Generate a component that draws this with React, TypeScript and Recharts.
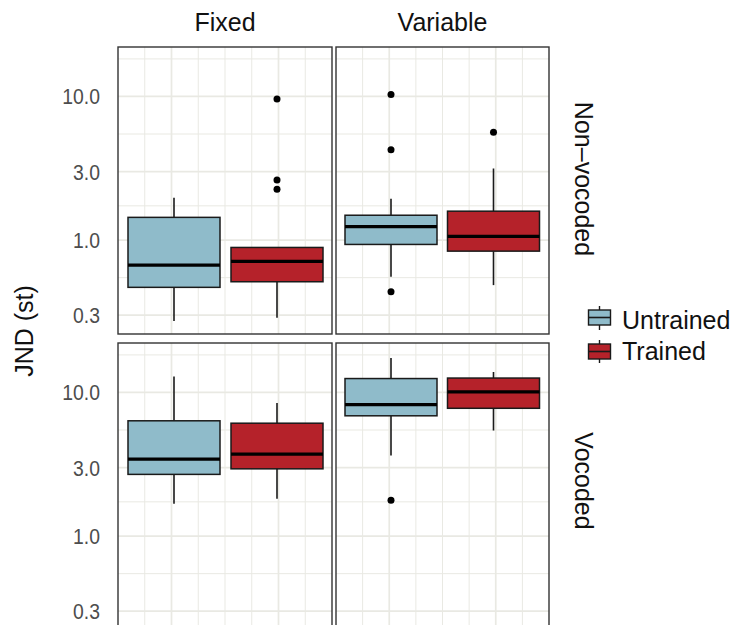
import { BarChart, Bar, XAxis, YAxis, CartesianGrid } from "recharts";

const FONT = '"Liberation Sans", Arial, Helvetica, sans-serif';

const groups = ["Untrained", "Trained"];
const fills: Record<string, string> = { Untrained: "#8FBBCA", Trained: "#B5222A" };

const majorY = [0.3, 1, 3, 10];
const minorY = [0.5477, 1.732, 5.477, 18.26];
const yDomain = [0.222, 22.1];

// per group: [lower whisker, q1, median, q3, upper whisker]
const fixedNonVocoded = [
  [0.273, 0.469, 0.67, 1.44, 1.97],
  [0.288, 0.513, 0.711, 0.889, 0.889],
];
const fixedNonVocodedOut = [[], [2.26, 2.62, 9.62]];

const variableNonVocoded = [
  [0.556, 0.933, 1.24, 1.49, 1.94],
  [0.486, 0.838, 1.06, 1.59, 3.15],
];
const variableNonVocodedOut = [[0.437, 4.25, 10.33], [5.64]];

const fixedVocoded = [
  [1.68, 2.69, 3.43, 6.35, 12.9],
  [1.82, 2.94, 3.72, 6.11, 8.45],
];
const fixedVocodedOut = [[], []];

const variableVocoded = [
  [3.64, 6.88, 8.23, 12.5, 17.4],
  [5.44, 7.76, 10.1, 12.6, 13.9],
];
const variableVocodedOut = [[1.78], []];

const toRows = (stats: number[][], outs: number[][]) =>
  groups.map((g, i) => ({
    group: g,
    low: stats[i][0],
    q1: stats[i][1],
    median: stats[i][2],
    q3: stats[i][3],
    high: stats[i][4],
    outliers: outs[i],
  }));

const BoxShape = (props: any) => {
  const { x, y, width, height, payload } = props;
  const v0 = payload.low;
  const v1 = payload.high;
  const toY = (v: number) =>
    y + (height * (Math.log(v1) - Math.log(v))) / (Math.log(v1) - Math.log(v0));
  const cx = x + width / 2;
  const yq1 = toY(payload.q1);
  const yq3 = toY(payload.q3);
  const ym = toY(payload.median);
  return (
    <g>
      <line x1={cx} x2={cx} y1={toY(payload.high)} y2={yq3} stroke="#1a1a1a" strokeWidth={1.6} />
      <line x1={cx} x2={cx} y1={yq1} y2={toY(payload.low)} stroke="#1a1a1a" strokeWidth={1.6} />
      <rect x={x} y={yq3} width={width} height={yq1 - yq3} fill={fills[payload.group]} stroke="#1a1a1a" strokeWidth={1.5} />
      <line x1={x} x2={x + width} y1={ym} y2={ym} stroke="#000" strokeWidth={3.2} />
      {payload.outliers.map((o: number, i: number) => (
        <circle key={i} cx={cx} cy={toY(o)} r={3.5} fill="#000" />
      ))}
    </g>
  );
};

const YTick = ({ x, y, payload }: any) => (
  <text
    transform={`translate(${x},${y}) scale(0.88,1)`}
    textAnchor="end"
    dy={8}
    fontSize={22}
    fontFamily={FONT}
    fill="#4D4D4D"
  >
    {payload.value.toFixed(1)}
  </text>
);

const scaleY = (yAxis: any, offset: any, v: number) => {
  const s = yAxis && yAxis.scale;
  if (typeof s === "function") return s(v);
  if (s && typeof s.map === "function") return s.map(v);
  const lr = Math.log(yDomain[1]) - Math.log(yDomain[0]);
  return offset.top + (offset.height * (Math.log(yDomain[1]) - Math.log(v))) / lr;
};

const Panel = ({ data, showAxis, left, top, width, height }: any) => (
  <div style={{ position: "absolute", left, top }}>
    <BarChart width={width} height={height} data={data} margin={{ top: 0, right: 0, bottom: 0, left: 0 }}>
      <CartesianGrid
        stroke="#E9E9E3"
        strokeWidth={1}
        horizontalCoordinatesGenerator={({ yAxis, offset }: any) => minorY.map((v) => scaleY(yAxis, offset, v))}
        verticalCoordinatesGenerator={({ offset }: any) =>
          [1, 3, 4, 5, 7].map((i) => offset.left + (offset.width * i) / 8)
        }
      />
      <CartesianGrid
        stroke="#E9E9E3"
        strokeWidth={1.7}
        horizontalCoordinatesGenerator={({ yAxis, offset }: any) => majorY.map((v) => scaleY(yAxis, offset, v))}
        verticalCoordinatesGenerator={({ offset }: any) =>
          [2, 6].map((i) => offset.left + (offset.width * i) / 8)
        }
      />
      <XAxis dataKey="group" type="category" hide padding={{ left: 4, right: 4 }} />
      <YAxis
        type="number"
        scale="log"
        domain={yDomain}
        allowDataOverflow
        ticks={majorY}
        hide={!showAxis}
        width={118}
        axisLine={false}
        tickLine={false}
        tickSize={0}
        tickMargin={18}
        tick={<YTick />}
      />
      <Bar
        dataKey={(d: any) => [d.low, d.high]}
        barSize={92}
        shape={<BoxShape />}
        isAnimationActive={false}
      />
    </BarChart>
  </div>
);

const cols = [
  { left: 118, width: 214 },
  { left: 336, width: 213 },
];
const rows = [
  { top: 47, height: 287 },
  { top: 343, height: 287 },
];

export default function App() {
  return (
    <div
      style={{
        position: "absolute",
        left: 0,
        top: 0,
        width: 736,
        height: 625,
        overflow: "hidden",
        background: "#fff",
        fontFamily: FONT,
      }}
    >
      <Panel data={toRows(fixedNonVocoded, fixedNonVocodedOut)} showAxis left={0} top={rows[0].top} width={332} height={rows[0].height} />
      <Panel data={toRows(variableNonVocoded, variableNonVocodedOut)} showAxis={false} left={cols[1].left} top={rows[0].top} width={cols[1].width} height={rows[0].height} />
      <Panel data={toRows(fixedVocoded, fixedVocodedOut)} showAxis left={0} top={rows[1].top} width={332} height={rows[1].height} />
      <Panel data={toRows(variableVocoded, variableVocodedOut)} showAxis={false} left={cols[1].left} top={rows[1].top} width={cols[1].width} height={rows[1].height} />
      <svg width={736} height={625} style={{ position: "absolute", left: 0, top: 0, pointerEvents: "none" }}>
        {rows.map((r, ri) =>
          cols.map((c, ci) => (
            <rect key={`${ri}-${ci}`} x={c.left} y={r.top} width={c.width} height={r.height} fill="none" stroke="#333" strokeWidth={1.4} />
          ))
        )}
        <g fontFamily={FONT} fontSize={25} fill="#111">
          <text x={225} y={31} textAnchor="middle">Fixed</text>
          <text x={442.5} y={31} textAnchor="middle">Variable</text>
          <text transform="translate(574.5,179) rotate(90)" textAnchor="middle">Non–vocoded</text>
          <text transform="translate(574.5,481) rotate(90)" textAnchor="middle">Vocoded</text>
          <text transform="translate(33,331) rotate(-90)" textAnchor="middle">JND (st)</text>
          <text x={622} y={328.5}>Untrained</text>
          <text x={622} y={360}>Trained</text>
        </g>
        {[
          { g: "Untrained", top: 310, bottom: 325, y1: 306, y2: 330 },
          { g: "Trained", top: 344, bottom: 359, y1: 340, y2: 363 },
        ].map((k) => (
          <g key={k.g}>
            <line x1={599.5} x2={599.5} y1={k.y1} y2={k.y2} stroke="#1a1a1a" strokeWidth={1.4} />
            <rect x={588.5} y={k.top} width={22} height={k.bottom - k.top} fill={fills[k.g]} stroke="#1a1a1a" strokeWidth={1.4} />
            <line x1={588.5} x2={610.5} y1={(k.top + k.bottom) / 2} y2={(k.top + k.bottom) / 2} stroke="#1a1a1a" strokeWidth={1.6} />
          </g>
        ))}
      </svg>
    </div>
  );
}
